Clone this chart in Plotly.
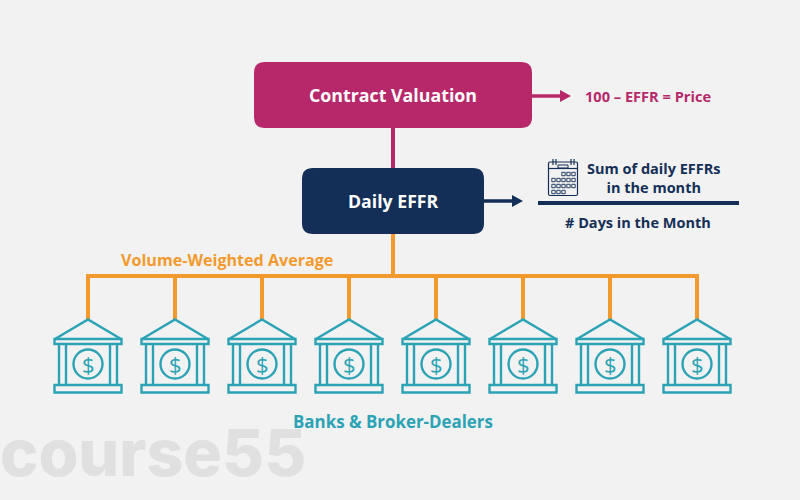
import plotly.graph_objects as go

# Colours
BG = '#F2F2F2'
MAGENTA = '#B7286B'
NAVY = '#142F57'
ORANGE = '#F39A2E'
TEAL = '#2BA3B5'
WATERMARK = '#E0E0E0'

# Diagram content
bank_centers = [88, 175, 262, 349, 436, 523, 610, 697]
box_labels = ['Contract Valuation', 'Daily EFFR']
calendar_cols = [553.5, 558.5, 563.5, 568.5, 573.5]
calendar_rows = [174, 180, 186, 192]

fig = go.Figure()


def rounded(x0, y0, x1, y1, r):
    return (f'M {x0+r} {y0} L {x1-r} {y0} Q {x1} {y0} {x1} {y0+r} L {x1} {y1-r} Q {x1} {y1} {x1-r} {y1} '
            f'L {x0+r} {y1} Q {x0} {y1} {x0} {y1-r} L {x0} {y0+r} Q {x0} {y0} {x0+r} {y0} Z')


def line(x0, y0, x1, y1, color, width):
    fig.add_shape(type='line', x0=x0, y0=y0, x1=x1, y1=y1, line=dict(color=color, width=width))


def outline(x0, y0, x1, y1, color=TEAL, width=2.4):
    fig.add_shape(type='rect', x0=x0, y0=y0, x1=x1, y1=y1, line=dict(color=color, width=width))


def label(x, y, text, color, size, weight=700, family='Open Sans'):
    fig.add_annotation(x=x, y=y, text=text, showarrow=False, xanchor='center', yanchor='middle',
                       font=dict(family=family, size=size, color=color, weight=weight))


def arrow_head(x, y, color):
    fig.add_shape(type='path', path=f'M {x-11} {y-6} L {x} {y} L {x-11} {y+6} Z',
                  fillcolor=color, line=dict(color=color, width=0))


# Connectors
line(393, 128, 393, 168, MAGENTA, 4)
line(393, 234, 393, 276, ORANGE, 4)
line(86, 276, 699, 276, ORANGE, 4)
for cx in bank_centers:
    line(cx, 276, cx, 319, ORANGE, 4)

# Boxes
fig.add_shape(type='path', path=rounded(254, 62, 532, 128, 11), fillcolor=MAGENTA, line=dict(width=0))
fig.add_shape(type='path', path=rounded(302, 168, 484, 234, 11), fillcolor=NAVY, line=dict(width=0))
label(393, 95, box_labels[0], 'white', 17.8)
label(393, 201, box_labels[1], 'white', 17.7)

# Arrows
line(532, 96, 562, 96, MAGENTA, 3.5)
arrow_head(571, 96, MAGENTA)
line(484, 201, 514, 201, NAVY, 3.5)
arrow_head(523, 201, NAVY)

# Banks
for cx in bank_centers:
    fig.add_shape(type='path', path=f'M {cx-33} 339 L {cx} 319.5 L {cx+33} 339',
                  line=dict(color=TEAL, width=2.4))
    outline(cx-33.5, 339, cx+33.5, 344)
    outline(cx-33.5, 385, cx+33.5, 392.5)
    for dx in (-29, -22, 22, 29):
        line(cx+dx, 344, cx+dx, 385, TEAL, 2.4)
    fig.add_shape(type='circle', x0=cx-14.5, y0=349.5, x1=cx+14.5, y1=378.5, line=dict(color=TEAL, width=2.4))
    label(cx, 364, '$', TEAL, 22, 400)

# Calendar icon
fig.add_shape(type='path', path=rounded(548.5, 162, 577.5, 195.5, 1.5), line=dict(color=NAVY, width=1.2))
line(548.5, 168.5, 577.5, 168.5, NAVY, 1.2)
for x in (553, 556, 571, 574):
    line(x, 159, x, 165, NAVY, 1.2)
outline(558, 165, 568, 168, NAVY, 1)
for ri, y in enumerate(calendar_rows):
    for ci, x in enumerate(calendar_cols):
        # first row starts at the third column, last row stops at the third
        if (ri == 0 and ci < 2) or (ri == 3 and ci > 2):
            continue
        outline(x-1.7, y-1.7, x+1.7, y+1.7, NAVY, 0.9)

# Fraction
line(538, 203, 739, 203, NAVY, 4)
label(654, 177.5, 'Sum of daily EFFRs<br>in the month', NAVY, 14.5)
label(638, 222, '# Days in the Month', NAVY, 14.5)

# Other texts
label(648, 96, '100 – EFFR = Price', MAGENTA, 14.6)
label(227, 260, 'Volume-Weighted Average', ORANGE, 16.1)
label(393, 421, 'Banks & Broker-Dealers', TEAL, 16.9)
label(152.5, 453, 'course55', WATERMARK, 64.5, 800, 'Inter')

fig.update_layout(
    width=800, height=500,
    margin=dict(l=0, r=0, t=0, b=0),
    paper_bgcolor=BG, plot_bgcolor=BG,
    showlegend=False,
    xaxis=dict(range=[0, 800], visible=False, fixedrange=True),
    yaxis=dict(range=[500, 0], visible=False, fixedrange=True),
)

# page has a default body margin, drop it so the figure fills the window
fig.write_html("out.html", config={'displayModeBar': False},
               post_script="document.body.style.margin='0';")
